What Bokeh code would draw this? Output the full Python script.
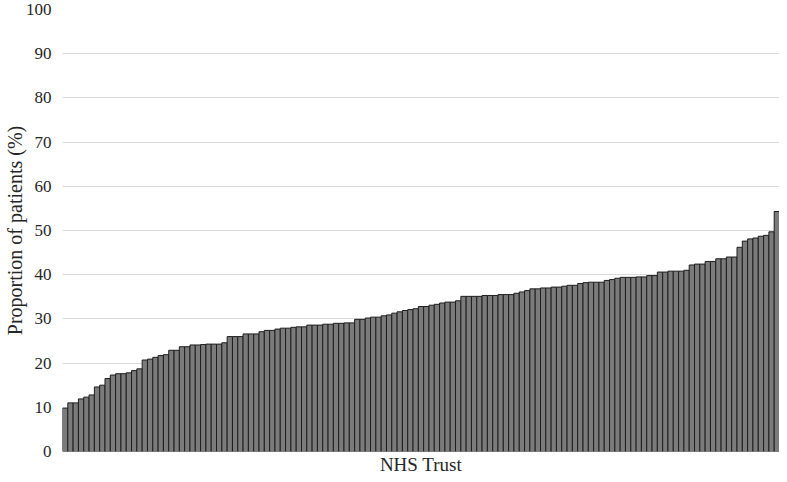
from bokeh.plotting import figure
from bokeh.models import ColumnDataSource, Range1d, FixedTicker, Title
from bokeh.embed import file_html
from bokeh.resources import INLINE

# Proportion of patients (%) per NHS Trust, ranked ascending
trust_rank = list(range(1, 136))
proportion = [
    9.8, 11.0, 11.0, 11.9, 12.3, 12.8, 14.6, 15.0, 16.5, 17.3, 17.6, 17.6, 17.8, 18.3, 18.7,
    20.7, 20.9, 21.3, 21.7, 21.9, 22.9, 22.9, 23.7, 23.7, 24.1, 24.1,
    24.2, 24.3, 24.3, 24.3, 24.6,
    26.0, 26.0, 26.0,
    26.6, 26.6, 26.6,
    27.1, 27.4, 27.4, 27.7, 27.9, 27.9, 28.1, 28.2, 28.2, 28.6, 28.6, 28.6, 28.8, 28.8, 29.0, 29.0,
    29.1, 29.1,
    29.9, 29.9, 30.2, 30.4, 30.4, 30.7, 30.9, 31.3, 31.6, 31.9, 32.1, 32.3, 32.8, 32.8, 33.1,
    33.3, 33.6, 33.8, 33.8, 34.1, 35.1, 35.1, 35.1, 35.1, 35.3,
    35.3, 35.3, 35.5, 35.5, 35.5, 35.8, 36.1, 36.4, 36.8, 36.8, 37.0, 37.0, 37.2, 37.2, 37.4,
    37.6, 37.6, 38.0, 38.2, 38.3, 38.3, 38.3, 38.7, 38.9, 39.2, 39.4,
    39.4, 39.4, 39.5, 39.5, 39.8, 39.8, 40.6, 40.6, 40.8, 40.8, 40.8, 41.0, 42.2, 42.4, 42.4,
    43.0, 43.0, 43.6, 43.6, 44.0, 44.0, 46.2, 47.6, 48.1, 48.3, 48.7, 48.9, 49.7, 54.3,
]
y_ticks = [0, 10, 20, 30, 40, 50, 60, 70, 80, 90, 100]
x_title = "NHS Trust"
y_title = "Proportion of patients (%)"

source = ColumnDataSource(data=dict(x=trust_rank, y=proportion))

p = figure(
    width=779, height=474,
    output_backend="svg", toolbar_location=None, tools="",
    x_axis_location=None,
    x_range=Range1d(0.5, len(trust_rank) + 0.5),
    y_range=Range1d(0, 100),
    min_border_left=0, min_border_right=0, min_border_top=9, min_border_bottom=0,
)
p.outline_line_color = None
p.background_fill_color = "white"
p.border_fill_color = "white"

p.vbar(x="x", top="y", width=1.0, bottom=0, source=source,
       fill_color="#7b7b7b", line_color="#1e1e1e", line_width=1)

font = "Liberation Serif"
tc = "#262626"

p.yaxis.ticker = FixedTicker(ticks=y_ticks)
p.yaxis.axis_line_color = None
p.yaxis.major_tick_line_color = None
p.yaxis.major_tick_out = 0
p.yaxis.major_tick_in = 0
p.yaxis.minor_tick_line_color = None
p.yaxis.major_label_text_font = font
p.yaxis.major_label_text_font_size = "17px"
p.yaxis.major_label_text_color = tc
p.yaxis.major_label_standoff = 11
p.yaxis.axis_label = y_title
p.yaxis.axis_label_text_font = font
p.yaxis.axis_label_text_font_size = "20px"
p.yaxis.axis_label_text_font_style = "normal"
p.yaxis.axis_label_text_color = tc
p.yaxis.axis_label_standoff = -3

t = Title(text=x_title, align="center", text_font=font,
          text_font_size="19px", text_font_style="normal",
          text_color=tc, standoff=0, offset=0)
p.add_layout(t, "below")

p.xgrid.grid_line_color = None
p.ygrid.ticker = FixedTicker(ticks=y_ticks)
p.ygrid.grid_line_color = "#d9d9d9"
p.ygrid.grid_line_width = 1

open("out.html", "w").write(file_html(p, INLINE))
